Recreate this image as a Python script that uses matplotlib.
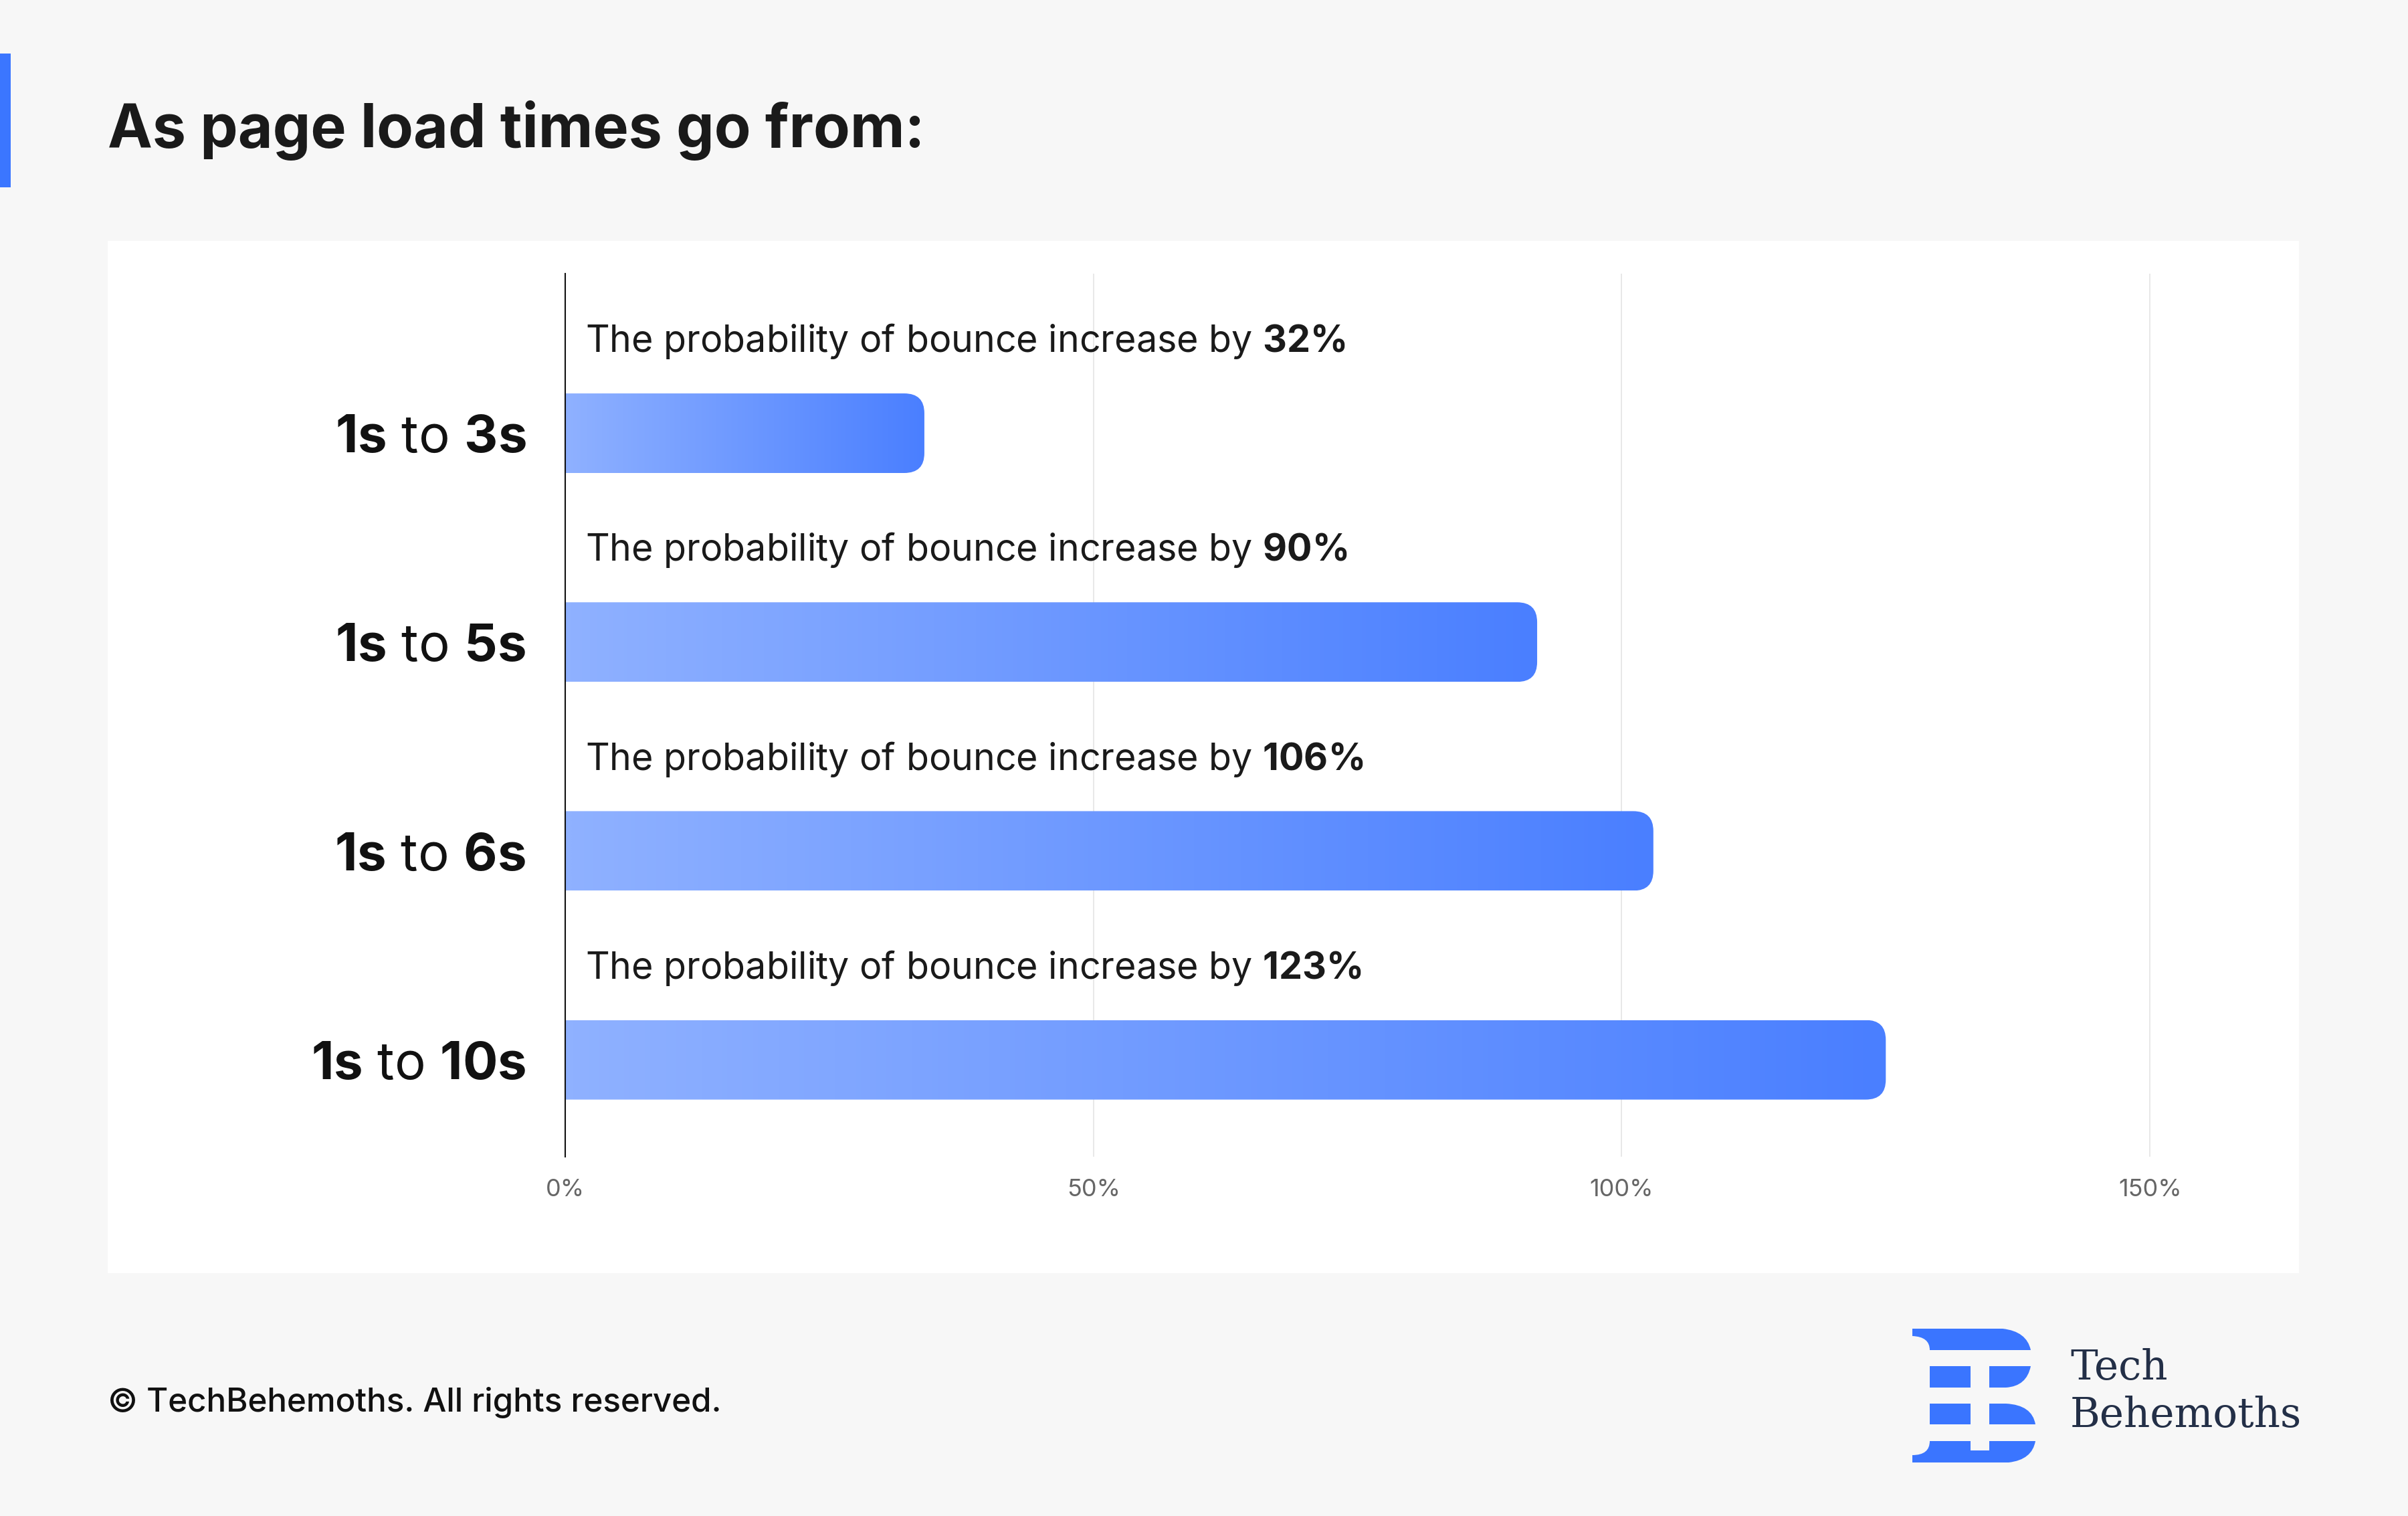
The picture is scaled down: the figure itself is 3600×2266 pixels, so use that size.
import numpy as np
import matplotlib.pyplot as plt
from matplotlib.patches import FancyBboxPatch, Rectangle, PathPatch
from matplotlib.path import Path
from matplotlib.colors import LinearSegmentedColormap

plt.rcParams['font.family'] = ['Inter', 'DejaVu Sans']
plt.rcParams['mathtext.fontset'] = 'custom'
plt.rcParams['mathtext.rm'] = 'Inter'
plt.rcParams['mathtext.bf'] = 'Inter:bold'

# data
range_start = ['1s', '1s', '1s', '1s']
range_end = ['3s', '5s', '6s', '10s']
bounce_increase = [32, 90, 106, 123]       # values written in the labels
bar_length = [34, 92, 103, 125]            # bar ends as drawn in the picture
x_ticks = [0, 50, 100, 150]
x_tick_labels = ['0%', '50%', '100%', '150%']

title = 'As page load times go from:'
footer = '\u00a9 TechBehemoths. All rights reserved.'

fig = plt.figure(figsize=(36, 22.66), dpi=100)
fig.patch.set_facecolor('#f7f7f7')

# background layer in pixel coords (panel, accent bar, logo)
bg = fig.add_axes([0, 0, 1, 1])
bg.set_xlim(0, 3600)
bg.set_ylim(2266, 0)
bg.axis('off')
bg.set_zorder(0)
bg.add_patch(Rectangle((161, 360), 3276, 1543, facecolor='white', edgecolor='none'))
bg.add_patch(Rectangle((0, 80), 16, 200, facecolor='#3b76ff', edgecolor='none'))
bg.text(161, 195, title, fontsize=64.5, fontweight='bold', color='#1a1a1a', va='center', ha='left')
bg.text(161, 2096, footer, fontsize=35.5, fontweight='medium', color='#111111', va='center', ha='left')

# logo
blue = '#3a75ff'
M, L, C = Path.MOVETO, Path.LINETO, Path.CURVE3
shapes = [
    ([(2859, 1986), (2994, 1986), (3030, 1990), (3036, 2018), (2885, 2018), (2885, 1998), (2859, 1997), (2859, 1986)],
     [M, L, C, C, L, C, C, L]),
    ([(2885, 2042), (2946, 2042), (2946, 2074), (2885, 2074), (2885, 2042)], [M, L, L, L, L]),
    ([(2974, 2042), (3036, 2042), (3030, 2072), (2999, 2074), (2974, 2074), (2974, 2042)], [M, L, C, C, L, L]),
    ([(2885, 2098), (2946, 2098), (2946, 2129), (2885, 2129), (2885, 2098)], [M, L, L, L, L]),
    ([(2974, 2098), (2999, 2098), (3038, 2100), (3043, 2129), (2974, 2129), (2974, 2098)], [M, L, C, C, L, L]),
    ([(2859, 2186), (3003, 2186), (3038, 2182), (3043, 2154), (2974, 2154), (2974, 2168), (2946, 2168),
      (2946, 2154), (2885, 2154), (2885, 2175), (2859, 2175), (2859, 2186)],
     [M, L, C, C, L, L, L, L, L, C, C, L]),
]
for verts, codes in shapes:
    bg.add_patch(PathPatch(Path(verts, codes), facecolor=blue, edgecolor='none'))
bg.text(3095, 2062, 'Tech', fontsize=44, family='DejaVu Serif', color='#232f47', va='baseline', ha='left')
bg.text(3095, 2133, 'Behemoths', fontsize=44, family='DejaVu Serif', color='#232f47', va='baseline', ha='left')

# main chart
ax = fig.add_axes([0.2347, 0.2370, 0.7020, 0.5825])
ax.set_zorder(1)
ax.patch.set_visible(False)
ax.set_xlim(0, 160)
ax.set_ylim(3.464, -0.764)

cmap = LinearSegmentedColormap.from_list('bar', ['#8fb1ff', '#4a7fff'])
grad = np.linspace(0, 1, 256).reshape(1, -1)
bar_h = 0.381
for i, (length, val) in enumerate(zip(bar_length, bounce_increase)):
    patch = FancyBboxPatch((-5, i - bar_h / 2), length + 5, bar_h,
                           boxstyle='round,pad=0,rounding_size=1.9', mutation_aspect=0.05,
                           facecolor='none', edgecolor='none')
    ax.add_patch(patch)
    im = ax.imshow(grad, extent=[0, length, i + bar_h / 2, i - bar_h / 2], aspect='auto', cmap=cmap,
                   interpolation='bicubic', zorder=2)
    im.set_clip_path(patch)
    ax.text(1.9, i - 0.44, 'The probability of bounce increase by $\\mathbf{%d\\%%}$' % val,
            fontsize=40, color='#1a1a1a', va='center', ha='left')

ax.set_yticks(range(len(range_end)))
ax.set_yticklabels(['$\\mathbf{%s}$ to $\\mathbf{%s}$' % (a, b) for a, b in zip(range_start, range_end)],
                   fontsize=56, color='#111111')
ax.set_xticks(x_ticks)
ax.set_xticklabels(x_tick_labels, fontsize=26, color='#666666')
ax.tick_params(axis='both', length=0)
ax.tick_params(axis='x', pad=24)
ax.tick_params(axis='y', pad=42)
ax.xaxis.grid(True, color='#e6e6e6', linewidth=1.3)
ax.set_axisbelow(True)
for s in ['top', 'right', 'bottom']:
    ax.spines[s].set_visible(False)
ax.spines['left'].set_color('#111111')
ax.spines['left'].set_linewidth(1.5)
ax.spines['left'].set_zorder(3)

fig.savefig('out.png', dpi=100, facecolor=fig.get_facecolor())
